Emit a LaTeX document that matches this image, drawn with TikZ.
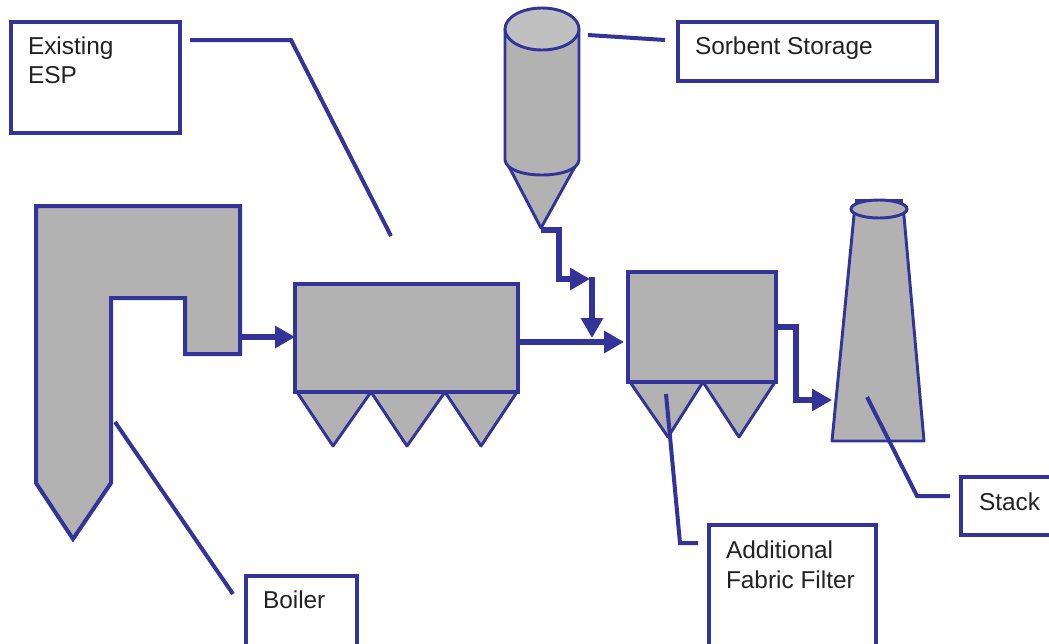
\documentclass[tikz,border=0pt]{standalone}
\usepackage{fontspec}
\setmainfont{Liberation Sans}
\usetikzlibrary{arrows.meta,positioning}
\definecolor{lineblue}{HTML}{333399}
\definecolor{plantgray}{HTML}{B2B2B2}
\definecolor{lidgray}{HTML}{C0C0C0}
\definecolor{labelink}{HTML}{222222}
\tikzset{
  x=0.75pt,y=-0.75pt,
  labelbox/.style 2 args={draw=lineblue,line width=3pt,fill=white,rectangle,outer sep=0pt,inner sep=0pt,anchor=north west,minimum width=#1*0.75pt,minimum height=#2*0.75pt},
  plantbox/.style={draw=lineblue,line width=#1pt,fill=plantgray,rectangle,outer sep=0pt,inner sep=0pt,anchor=north west},
  plant/.style={draw=lineblue,line width=3pt,fill=plantgray,line join=miter},
  thinplant/.style={draw=lineblue,line width=2.2pt,fill=plantgray,line join=round},
  leader/.style={draw=lineblue,line width=3pt,line join=miter},
  flow/.style={draw=lineblue,line width=5.2pt,line join=miter,-{Triangle[length=15pt,width=16pt]}},
  caption/.style={anchor=base west,inner sep=0pt,outer sep=0pt,text=labelink,font=\fontsize{18.3pt}{22pt}\selectfont},
}
\begin{document}
\begin{tikzpicture}
\useasboundingbox (0,0) rectangle (1049,643);
\clip (0,0) rectangle (1049,643);

% Label boxes
\node[labelbox={169}{111}] (espbox) at (11,22) {};
\node[labelbox={259}{59}] (sorbentbox) at (678,22) {};
\node[labelbox={110}{58}] (stackbox) at (961,477) {};
\node[labelbox={167}{140}] (filterbox) at (709,525) {};
\node[labelbox={111}{90}] (boilerbox) at (246,576) {};

\node[caption] (esptexta) at (28,54) {Existing};
\node[caption] (esptextb) at (28,83) {ESP};
\node[caption] (sorbenttext) at (695,54) {Sorbent Storage};
\node[caption] (stacktext) at (979,510) {Stack};
\node[caption] (filtertexta) at (726,558) {Additional};
\node[caption] (filtertextb) at (726,588) {Fabric Filter};
\node[caption] (boilertext) at (263,608) {Boiler};

% Boiler
\draw[plant] (36,206) -- (240,206) -- (240,354) -- (185,354) -- (185,298) -- (111,298) -- (111,483) -- (73,539) -- (36,483) -- cycle;

% ESP
\draw[thinplant] (297,392) -- (333,446) -- (371,392) -- (407,446) -- (445,392) -- (481,446) -- (517,392) -- cycle;
\node[plantbox=3,minimum width=167.25pt,minimum height=81pt] (esp) at (295,284) {};

% Silo
\draw[thinplant] (507,163) -- (541,228) -- (577,163) -- cycle;
\draw[thinplant] (505,29) -- (505,160) .. controls (507,180) and (577,180) .. (579,160) -- (579,29) -- cycle;
\draw[draw=lineblue,line width=2.2pt,fill=lidgray] (542,29) ellipse [x radius=37, y radius=21];

% Fabric filter
\draw[thinplant] (630,382) -- (668,437) -- (703,382) -- (739,437) -- (775,382) -- cycle;
\node[plantbox=2.6,minimum width=111pt,minimum height=82.5pt] (filter) at (628,272) {};

% Stack
\draw[thinplant] (855,205) -- (903,205) -- (924,441) -- (832,441) -- cycle;
\draw[draw=lineblue,line width=2.6pt] (855,201) -- (903,201);
\draw[draw=lineblue,line width=2.2pt,fill=plantgray] (879,209) ellipse [x radius=28, y radius=9];

% Flow arrows
\coordinate (boilerout) at (240,337);
\coordinate (siloout) at (541,230);
\coordinate (mergeA) at (590,279);
\coordinate (mergeC) at (592,277);
\coordinate (mergeB) at (592,338);
\coordinate (stackin) at (832,400);
\draw[flow] (boilerout) -- (esp.west |- boilerout);
\draw[flow] (esp.east |- 0,342) -- (624,342);
\draw[flow] (siloout) -- (559,230) -- (559,279) -- (mergeA);
\draw[flow] (mergeC) -- (mergeB);
\draw[flow] (filter.east |- 0,327) -- (796,327) -- (796,400) -- (stackin);

% Leaders
\coordinate (espa) at (190,40);
\coordinate (espb) at (291,40);
\coordinate (espc) at (391,236);
\draw[leader] (espa) -- (espb) -- (espc);
\coordinate (sorbenta) at (588,35);
\coordinate (sorbentb) at (665,40);
\draw[leader] (sorbentb) -- (sorbenta);
\coordinate (boilera) at (115,422);
\coordinate (boilerb) at (233,594);
\draw[leader] (boilera) -- (boilerb);
\coordinate (filtera) at (666,394);
\coordinate (filterb) at (680,543);
\coordinate (filterc) at (698,543);
\draw[leader] (filtera) -- (filterb) -- (filterc);
\coordinate (stacka) at (867,397);
\coordinate (stackb) at (917,496);
\coordinate (stackc) at (950,496);
\draw[leader] (stacka) -- (stackb) -- (stackc);
\end{tikzpicture}
\end{document}
